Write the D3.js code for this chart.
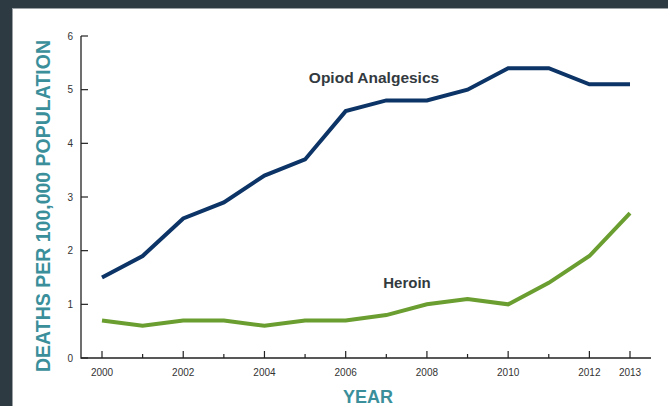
<!DOCTYPE html>
<html>
<head>
<meta charset="utf-8">
<script src="https://cdn.jsdelivr.net/npm/d3@7"></script>
<style>
  body { margin: 0; background: #2e3a42; }
  #graphContainer { width: 668px; height: 406px; overflow: hidden; }
</style>
</head>
<body>
<div id="graphContainer"></div>
<script>
// дані з графіка
const years = [2000, 2001, 2002, 2003, 2004, 2005, 2006, 2007, 2008, 2009, 2010, 2011, 2012, 2013];
const opioid = [1.5, 1.9, 2.6, 2.9, 3.4, 3.7, 4.6, 4.8, 4.8, 5.0, 5.4, 5.4, 5.1, 5.1];
const heroin = [0.7, 0.6, 0.7, 0.7, 0.6, 0.7, 0.7, 0.8, 1.0, 1.1, 1.0, 1.4, 1.9, 2.7];
const yTicks = [0, 1, 2, 3, 4, 5, 6];
const xLabels = [2000, 2002, 2004, 2006, 2008, 2010, 2012, 2013];

function draw() {
    let width = 668;
    let height = 406;

    let svg = d3.select("#graphContainer").append("svg")
        .attr("width", width)
        .attr("height", height);

    // біла панель
    svg.append("rect")
        .attr("x", 12.5).attr("y", 8.5)
        .attr("width", width).attr("height", height)
        .attr("fill", "#fff")
        .attr("stroke", "#9aa0a4");

    let x = d3.scaleLinear().domain([2000, 2013]).range([102, 630]);
    let y = d3.scaleLinear().domain([0, 6]).range([358, 36]);

    let axisColor = "#222";

    // осі
    svg.append("path")
        .attr("d", `M81,${y(6)}V358H651`)
        .attr("fill", "none")
        .attr("stroke", axisColor)
        .attr("stroke-width", 1.3);

    let g = svg.append("g").attr("font-family", "Liberation Sans, Arial, sans-serif");

    g.selectAll(".yt").data(yTicks).enter().append("line")
        .attr("x1", 81).attr("x2", 88)
        .attr("y1", d => y(d)).attr("y2", d => y(d))
        .attr("stroke", axisColor).attr("stroke-width", 1.2);

    g.selectAll(".yl").data(yTicks).enter().append("text")
        .attr("x", 73).attr("y", d => y(d) + 3.5)
        .attr("text-anchor", "end")
        .attr("font-size", 10)
        .attr("fill", "#333")
        .text(d => d);

    g.selectAll(".xt").data(years).enter().append("line")
        .attr("x1", d => x(d)).attr("x2", d => x(d))
        .attr("y1", 358).attr("y2", d => d % 2 === 0 || d === 2013 ? 351 : 354)
        .attr("stroke", axisColor).attr("stroke-width", 1.2);

    g.selectAll(".xl").data(xLabels).enter().append("text")
        .attr("x", d => x(d)).attr("y", 376)
        .attr("text-anchor", "middle")
        .attr("font-size", 10)
        .attr("fill", "#333")
        .text(d => d);

    // лінії
    let line = d3.line()
        .x((d, i) => x(years[i]))
        .y(d => y(d));

    svg.append("path").datum(opioid)
        .attr("d", line)
        .attr("fill", "none")
        .attr("stroke", "#0c3466")
        .attr("stroke-width", 4);

    svg.append("path").datum(heroin)
        .attr("d", line)
        .attr("fill", "none")
        .attr("stroke", "#6b9e30")
        .attr("stroke-width", 4);

    // підписи серій
    g.append("text")
        .attr("x", 374).attr("y", 83)
        .attr("text-anchor", "middle")
        .attr("font-size", 15.5).attr("font-weight", "bold")
        .attr("fill", "#333a40")
        .text("Opiod Analgesics");

    g.append("text")
        .attr("x", 407).attr("y", 288)
        .attr("text-anchor", "middle")
        .attr("font-size", 15).attr("font-weight", "bold")
        .attr("fill", "#333a40")
        .text("Heroin");

    // назви осей
    g.append("text")
        .attr("x", 368).attr("y", 403)
        .attr("text-anchor", "middle")
        .attr("font-size", 18).attr("font-weight", "bold")
        .attr("fill", "#3a8f9b")
        .text("YEAR");

    g.append("text")
        .attr("transform", "translate(50,206) rotate(-90)")
        .attr("text-anchor", "middle")
        .attr("font-size", 19.5).attr("font-weight", "bold")
        .attr("fill", "#3a8f9b")
        .text("DEATHS PER 100,000 POPULATION");
}

draw();
</script>
</body>
</html>
